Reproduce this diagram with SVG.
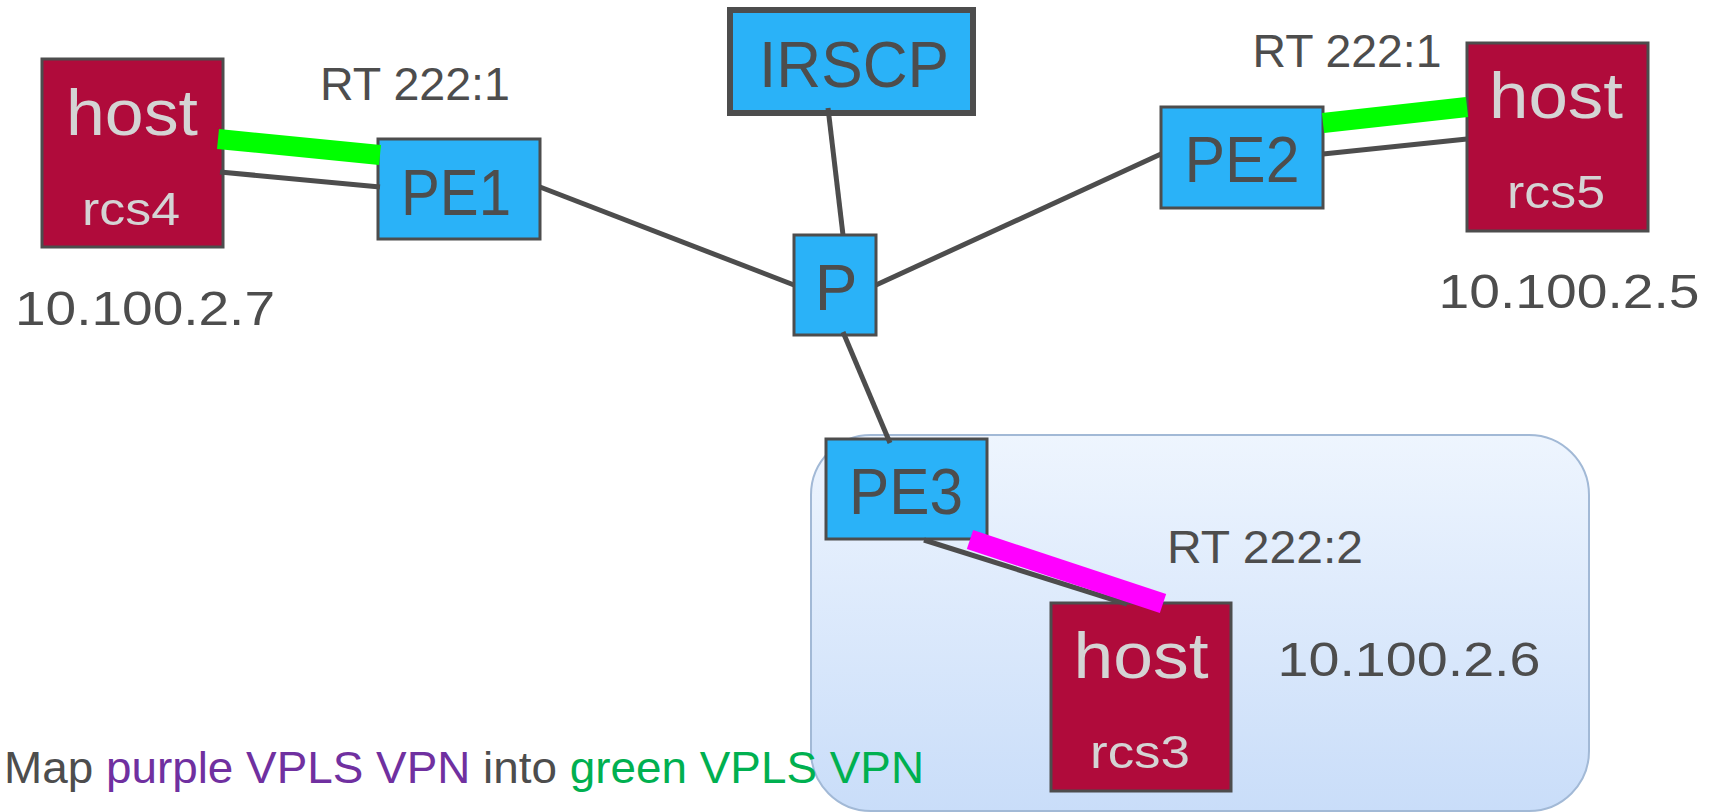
<svg xmlns="http://www.w3.org/2000/svg" width="1709" height="812" viewBox="0 0 1709 812">
<defs>
<linearGradient id="grp" x1="0" y1="0" x2="0" y2="1">
<stop offset="0" stop-color="#EEF5FE"/>
<stop offset="1" stop-color="#C9DDF9"/>
</linearGradient>
<style>
text{font-family:"Liberation Sans",Arial,sans-serif;fill:#4D4D4D}
.host rect{fill:#B00B3B;stroke:#4D4D4D;stroke-width:3}
.host text{fill:#D4D4D4}
.pe rect{fill:#2AB2F8;stroke:#4D4D4D;stroke-width:3}
.lnk{stroke:#4D4D4D;stroke-width:5;fill:none}
.grn{stroke:#00FF00;stroke-width:20}
.mag{stroke:#FF00FF;stroke-width:20}
.big{font-size:64px}
.sub{font-size:47px}
.lbl{font-size:47px}
.ip{font-size:49px}
</style>
</defs>
<rect id="vpn-area" x="811" y="435" width="778" height="376" rx="60" ry="60" fill="url(#grp)" stroke="#A2B9D6" stroke-width="2"/>

<g id="rcs4" class="host">
<rect x="42" y="59" width="181" height="188"/>
<text x="132" y="135" class="big" text-anchor="middle" textLength="132" lengthAdjust="spacingAndGlyphs">host</text>
<text x="131" y="225" class="sub" text-anchor="middle" textLength="98" lengthAdjust="spacingAndGlyphs">rcs4</text>
</g>
<g id="rcs5" class="host">
<rect x="1467" y="43" width="181" height="188"/>
<text x="1556" y="118" class="big" text-anchor="middle" textLength="134" lengthAdjust="spacingAndGlyphs">host</text>
<text x="1556" y="208" class="sub" text-anchor="middle" textLength="98" lengthAdjust="spacingAndGlyphs">rcs5</text>
</g>
<g id="rcs3" class="host">
<rect x="1051" y="603" width="180" height="188"/>
<text x="1141" y="678" class="big" text-anchor="middle" textLength="135" lengthAdjust="spacingAndGlyphs">host</text>
<text x="1140" y="768" class="sub" text-anchor="middle" textLength="100" lengthAdjust="spacingAndGlyphs">rcs3</text>
</g>

<g id="PE1" class="pe">
<rect x="378" y="139" width="162" height="100"/>
<text x="456" y="215" class="big" text-anchor="middle" textLength="110" lengthAdjust="spacingAndGlyphs">PE1</text>
</g>
<g id="PE2" class="pe">
<rect x="1161" y="107" width="162" height="101"/>
<text x="1242" y="182" class="big" text-anchor="middle" textLength="115" lengthAdjust="spacingAndGlyphs">PE2</text>
</g>
<g id="PE3" class="pe">
<rect x="826" y="439" width="161" height="100"/>
<text x="906" y="514" class="big" text-anchor="middle" textLength="114" lengthAdjust="spacingAndGlyphs">PE3</text>
</g>
<g id="P" class="pe">
<rect x="794" y="235" width="82" height="100"/>
<text x="836" y="310" class="big" text-anchor="middle">P</text>
</g>
<g id="IRSCP" class="pe">
<rect x="730" y="10" width="243" height="103" style="stroke-width:6"/>
<text x="854" y="87" style="font-size:65px" text-anchor="middle" textLength="190" lengthAdjust="spacingAndGlyphs">IRSCP</text>
</g>

<g id="connectors">
<line class="lnk" x1="540" y1="187" x2="794" y2="285"/>
<line class="lnk" x1="828" y1="108" x2="843" y2="235"/>
<line class="lnk" x1="876" y1="285" x2="1161" y2="154"/>
<line class="lnk" x1="843" y1="332" x2="890" y2="443"/>
<line class="lnk" x1="220" y1="172" x2="380" y2="187"/>
<line class="lnk grn" x1="218" y1="139" x2="380" y2="155"/>
<line class="lnk" x1="1323" y1="154" x2="1467" y2="139"/>
<line class="lnk grn" x1="1323" y1="123" x2="1467" y2="107"/>
<line class="lnk" x1="924" y1="540" x2="1127" y2="604"/>
<line class="lnk mag" x1="970" y1="539.5" x2="1163" y2="603.5"/>
</g>

<g id="labels">
<text x="415" y="100" class="lbl" text-anchor="middle" textLength="190" lengthAdjust="spacingAndGlyphs">RT 222:1</text>
<text x="1347" y="67" class="lbl" text-anchor="middle" textLength="189" lengthAdjust="spacingAndGlyphs">RT 222:1</text>
<text x="1265" y="563" class="lbl" text-anchor="middle" textLength="196" lengthAdjust="spacingAndGlyphs">RT 222:2</text>
<text x="145" y="325" class="ip" text-anchor="middle" textLength="260" lengthAdjust="spacingAndGlyphs">10.100.2.7</text>
<text x="1569" y="308" class="ip" text-anchor="middle" textLength="261" lengthAdjust="spacingAndGlyphs">10.100.2.5</text>
<text x="1409" y="676" class="ip" text-anchor="middle" textLength="263" lengthAdjust="spacingAndGlyphs">10.100.2.6</text>
<text x="4" y="783" style="font-size:45px" textLength="920" lengthAdjust="spacingAndGlyphs">Map <tspan style="fill:#7030A0">purple VPLS VPN</tspan> into <tspan style="fill:#00B050">green VPLS VPN</tspan></text>
</g>
</svg>
